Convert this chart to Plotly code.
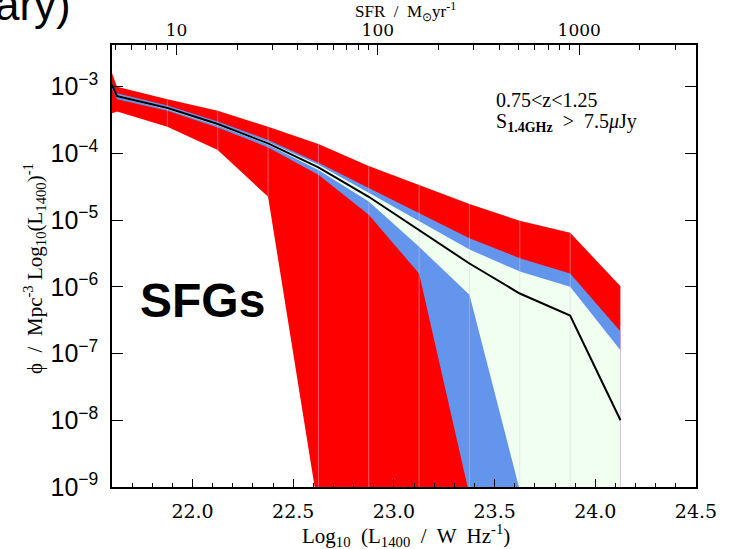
import numpy as np
import plotly.graph_objects as go

# ---- data (log10 values) ----
log_L = [21.375, 21.625, 21.875, 22.125, 22.375, 22.625, 22.875,
         23.125, 23.375, 23.625, 23.875, 24.125]

log_phi_median = [-1.52, -3.14, -3.32, -3.56, -3.85, -4.21, -4.65,
                  -5.15, -5.65, -6.10, -6.43, -8.00]

log_phi_red_hi = [-0.97, -3.00, -3.19, -3.36, -3.60, -3.86, -4.19,
                  -4.48, -4.76, -5.01, -5.19, -5.99]
log_phi_red_lo = [-3.65, -3.37, -3.60, -3.95, -4.65, -9.35, -10.0,
                  -10.0, -10.0, -10.0, -10.0, -10.0]

log_phi_blue_hi = [-1.42, -3.10, -3.28, -3.52, -3.80, -4.14, -4.52,
                   -4.90, -5.27, -5.57, -5.80, -6.67]
log_phi_blue_lo = [-1.62, -3.19, -3.36, -3.61, -3.91, -4.32, -4.92,
                   -5.80, -9.12, -10.0, -10.0, -10.0]

log_phi_green_hi = [-1.49, -3.12, -3.31, -3.55, -3.83, -4.17, -4.59,
                    -5.02, -5.44, -5.77, -6.00, -6.95]
log_phi_green_lo = [-1.55, -3.15, -3.34, -3.58, -3.87, -4.25, -4.72,
                    -5.40, -6.12, -9.05, -10.0, -10.0]

SFR_OFFSET = 20.92          # log10(SFR) = log10(L1400) - SFR_OFFSET
x_range = [21.6, 24.5]
y_range = [-9.0, -2.375]

sfr_major = [10, 100, 1000]
sfr_minor = [5, 6, 7, 8, 9, 20, 30, 40, 50, 60, 70, 80, 90,
             200, 300, 400, 500, 600, 700, 800, 900, 2000, 3000]

RED = "#ff0000"
BLUE = "#6495ed"
GREEN = "#f0fff0"


def band(hi, lo):
    xs = list(log_L) + list(log_L[::-1])
    ys = [10 ** v for v in hi] + [10 ** v for v in lo[::-1]]
    return xs, ys


fig = go.Figure()
for hi, lo, col in [(log_phi_red_hi, log_phi_red_lo, RED),
                    (log_phi_blue_hi, log_phi_blue_lo, BLUE),
                    (log_phi_green_hi, log_phi_green_lo, GREEN)]:
    xs, ys = band(hi, lo)
    fig.add_trace(go.Scatter(x=xs, y=ys, fill="toself", fillcolor=col,
                             mode="lines", line=dict(width=0, color=col),
                             hoverinfo="skip", showlegend=False))

# faint seams at the bin centres
sx, sy = [], []
for i in range(2, len(log_L)):
    sx += [log_L[i], log_L[i], None]
    sy += [10 ** log_phi_red_lo[i], 10 ** log_phi_red_hi[i], None]
fig.add_trace(go.Scatter(x=sx, y=sy, mode="lines",
                         line=dict(width=1, color="rgba(215,200,230,0.45)"),
                         hoverinfo="skip", showlegend=False))

fig.add_trace(go.Scatter(x=log_L, y=[10 ** v for v in log_phi_median],
                         mode="lines", line=dict(color="black", width=2),
                         showlegend=False))

# dummy trace for the top SFR axis
fig.add_trace(go.Scatter(x=[100], y=[1e-20], xaxis="x2", mode="markers",
                         marker=dict(opacity=0), hoverinfo="skip",
                         showlegend=False))

serif = "DejaVu Serif"
tserif = "Liberation Serif"

fig.update_layout(
    width=740, height=549,
    margin=dict(l=112, r=44, t=45, b=62),
    paper_bgcolor="white", plot_bgcolor="white",
    xaxis=dict(range=x_range, showgrid=False, zeroline=False,
               showline=True, linecolor="black", linewidth=1.5,
               ticks="inside", ticklen=8, tickwidth=1, tickcolor="black",
               tick0=22.0, dtick=0.5, tickformat=".1f",
               minor=dict(ticks="inside", ticklen=4, dtick=0.1,
                          tickcolor="black", tickwidth=1),
               tickfont=dict(family=serif, size=19, color="black"),
               ticklabelstandoff=6),
    xaxis2=dict(overlaying="x", side="top", type="log",
                range=[x_range[0] - SFR_OFFSET, x_range[1] - SFR_OFFSET],
                showgrid=False, zeroline=False,
                showline=True, linecolor="black", linewidth=1.5,
                ticks="inside", ticklen=10, tickwidth=1, tickcolor="black",
                tickvals=sfr_major, ticktext=[str(v) for v in sfr_major],
                minor=dict(ticks="inside", ticklen=5, tickvals=sfr_minor,
                           tickcolor="black", tickwidth=1),
                tickfont=dict(family=serif, size=17, color="black"),
                ticklabelstandoff=0),
    yaxis=dict(type="log", range=y_range, showgrid=False, zeroline=False,
               showline=True, linecolor="black", linewidth=1.5,
               mirror="ticks", ticks="inside", ticklen=11, tickwidth=1,
               tickcolor="black", dtick=1, exponentformat="power",
               showexponent="all",
               tickfont=dict(family="Liberation Sans", size=20,
                             color="black"),
               ticklabelstandoff=8),
    showlegend=False,
)

W = 583.5
H = 442.0


def px(xp):
    return (xp - 112) / W


def py(yp):
    return (487 - yp) / H


annos = [
    dict(text="ary)", x=px(73), y=py(4), xanchor="right", yanchor="middle",
         font=dict(family="Liberation Sans", size=44, color="black")),
    dict(text="<b>SFGs</b>", x=px(202), y=py(300), xanchor="center",
         yanchor="middle",
         font=dict(family="Liberation Sans", size=48, color="black")),
    dict(text="0.75&lt;z&lt;1.25", x=px(494), y=py(100), xanchor="left",
         yanchor="middle", font=dict(family=tserif, size=20, color="black")),
    dict(text="S<sub><b>1.4GHz</b></sub>  &gt;  7.5<i>μ</i>Jy", x=px(494),
         y=py(122), xanchor="left", yanchor="middle",
         font=dict(family=tserif, size=20, color="black")),
    dict(text="SFR  /  M<sub>⊙</sub>yr<sup>-1</sup>", x=px(405), y=py(11),
         xanchor="center", yanchor="middle",
         font=dict(family=tserif, size=17, color="black")),
    dict(text="Log<sub>10</sub>  (L<sub>1400</sub>  /  W  Hz<sup>-1</sup>)",
         x=px(406), y=py(535), xanchor="center", yanchor="middle",
         font=dict(family=tserif, size=21, color="black")),
    dict(text="ϕ  /  Mpc<sup>-3</sup> Log<sub>10</sub>(L<sub>1400</sub>)<sup>-1</sup>",
         x=px(34), y=py(268), xanchor="center", yanchor="middle",
         textangle=-90, font=dict(family=tserif, size=21, color="black")),
]
for a in annos:
    a.update(xref="paper", yref="paper", showarrow=False)
fig.update_layout(annotations=annos)

fig.write_html("out.html")
